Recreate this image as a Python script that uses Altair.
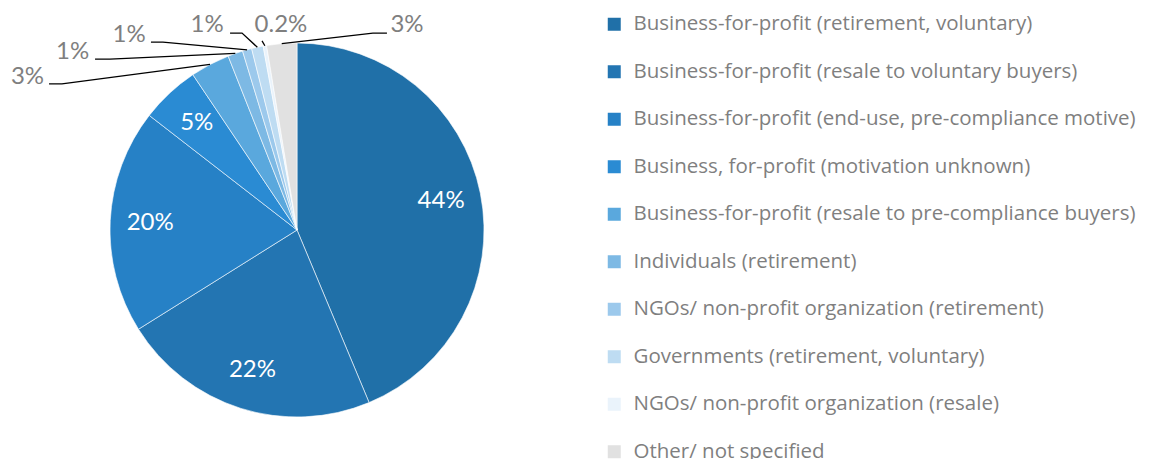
import math
import altair as alt
import pandas as pd

# ---------------- data ----------------
categories = [
    "Business-for-profit (retirement, voluntary)",
    "Business-for-profit (resale to voluntary buyers)",
    "Business-for-profit (end-use, pre-compliance motive)",
    "Business, for-profit (motivation unknown)",
    "Business-for-profit (resale to pre-compliance buyers)",
    "Individuals (retirement)",
    "NGOs/ non-profit organization (retirement)",
    "Governments (retirement, voluntary)",
    "NGOs/ non-profit organization (resale)",
    "Other/ not specified",
]
values = [43.7, 22.4, 19.4, 5.1, 3.4, 1.3, 0.8, 1.0, 0.3, 2.6]
labels = ["44%", "22%", "20%", "5%", "3%", "1%", "1%", "1%", "0.2%", "3%"]
inside = [True, True, True, True, False, False, False, False, False, False]

# ---------------- styles / layout ----------------
colors = ["#2070a8", "#2375b2", "#2681c6", "#2a8bd3", "#5aa8dd",
          "#7db9e4", "#9cc9ec", "#bedcf2", "#eaf3fb", "#e1e1e1"]
GRAY = "#7f7f7f"
FONT = "Lato"
LEGEND_FONT = "Open Sans"
R = 187  # pie radius in px (plot is 2R x 2R)

# callout layout (unit coords relative to pie centre, radius = 1):
# label centre, leader start, elbow
callouts = {
    4: ((-1.441, 0.818), (-1.326, 0.781), (-1.257, 0.781)),
    5: ((-1.200, 0.952), (-1.080, 0.914), (-1.000, 0.914)),
    6: ((-0.898, 1.043), (-0.781, 1.005), (-0.717, 1.005)),
    7: ((-0.481, 1.096), (-0.358, 1.053), (-0.294, 1.053)),
    8: ((-0.086, 1.096), (-0.187, 1.011), (-0.187, 1.011)),
    9: ((0.588, 1.096), (0.481, 1.053), (0.406, 1.053)),
}

df = pd.DataFrame({
    "cat": categories,
    "value": values,
    "label": labels,
    "idx": list(range(len(values))),
    "inside_label": [l if f else "" for l, f in zip(labels, inside)],
})

# mid-angles of slices (clockwise from 12 o'clock) from the data
total = sum(values)
mids = []
cum = 0.0
for v in values:
    mids.append(2 * math.pi * (cum + v / 2) / total)
    cum += v

out_rows, line_rows = [], []
for i, (lab, p0, p1) in callouts.items():
    out_rows.append({"u": lab[0], "v": lab[1], "label": labels[i]})
    edge = (math.sin(mids[i]), math.cos(mids[i]))
    for s, p in enumerate([p0, p1, edge]):
        line_rows.append({"id": i, "seq": s, "u": p[0], "v": p[1]})
df_out = pd.DataFrame(out_rows)
df_lines = pd.DataFrame(line_rows)

xs = alt.Scale(domain=[-1, 1], nice=False, zero=False)
ys = alt.Scale(domain=[-1, 1], nice=False, zero=False)

theta = alt.Theta("value:Q", stack=True)
order = alt.Order("idx:Q")

arc = alt.Chart(df).mark_arc(radius=R, stroke="white", strokeWidth=0.6).encode(
    theta=theta,
    order=order,
    color=alt.Color(
        "cat:N",
        scale=alt.Scale(domain=categories, range=colors),
        legend=alt.Legend(
            title=None,
            orient="none",
            legendX=494,
            legendY=-29,
            symbolType="square",
            symbolSize=169,
            symbolStrokeWidth=0,
            labelFont=LEGEND_FONT,
            labelFontSize=20.5,
            labelColor=GRAY,
            labelLimit=800,
            labelOffset=9,
            rowPadding=26.5,
            padding=0,
        ),
    ),
)

in_text = alt.Chart(df).mark_text(radius=147, font=FONT, fontSize=24, color="white").encode(
    theta=theta, order=order, text="inside_label:N"
)

lines = alt.Chart(df_lines).mark_line(color="black", strokeWidth=1.3).encode(
    x=alt.X("u:Q", scale=xs, axis=None),
    y=alt.Y("v:Q", scale=ys, axis=None),
    detail="id:N",
    order="seq:Q",
)

out_text = alt.Chart(df_out).mark_text(font=FONT, fontSize=24, color=GRAY).encode(
    x=alt.X("u:Q", scale=xs, axis=None),
    y=alt.Y("v:Q", scale=ys, axis=None),
    text="label:N",
)

chart = alt.layer(arc, in_text, lines, out_text).properties(
    width=2 * R,
    height=2 * R,
    padding={"left": 102, "top": 35, "right": 659, "bottom": 80},
    autosize=alt.AutoSizeParams(type="none"),
).configure_view(stroke=None)

chart.save("out.html", embed_options={"renderer": "svg", "actions": False})
